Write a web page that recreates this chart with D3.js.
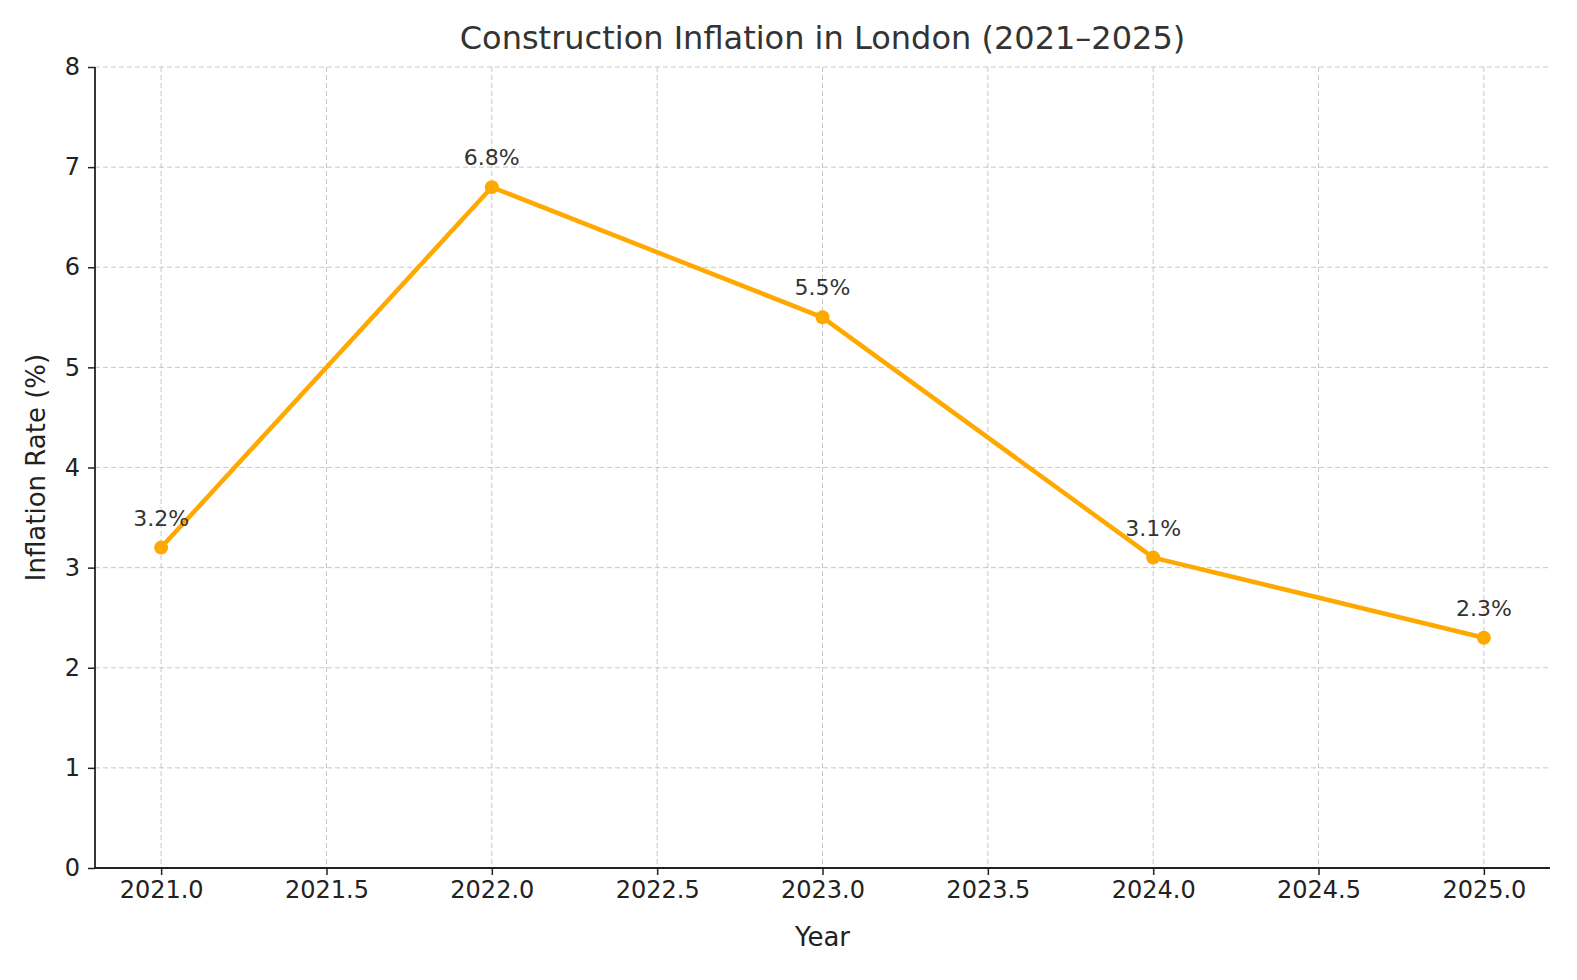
<!DOCTYPE html>
<html>
<head>
<meta charset="utf-8">
<script src="https://cdn.jsdelivr.net/npm/d3@7"></script>
<style>
  body { margin: 0; background: #fff; }
  text { font-family: "DejaVu Sans", sans-serif; }
</style>
</head>
<body>
<svg id="chart" width="1577" height="980"></svg>
<script>
const years = [2021, 2022, 2023, 2024, 2025];
const rates = [3.2, 6.8, 5.5, 3.1, 2.3];
const xTicks = [2021.0, 2021.5, 2022.0, 2022.5, 2023.0, 2023.5, 2024.0, 2024.5, 2025.0];
const yTicks = [0, 1, 2, 3, 4, 5, 6, 7, 8];

const svg = d3.select("#chart");
const mLeft = 95, mRight = 1550, mTop = 67, mBottom = 868;

const x = d3.scaleLinear().domain([2020.8, 2025.2]).range([mLeft, mRight]);
const y = d3.scaleLinear().domain([0, 8]).range([mBottom, mTop]);

// grid
svg.append("g").selectAll("line").data(xTicks).join("line")
  .attr("x1", d => x(d)).attr("x2", d => x(d)).attr("y1", mTop).attr("y2", mBottom)
  .attr("stroke", "#b0b0b0").attr("stroke-opacity", 0.7).attr("stroke-dasharray", "5,3").attr("stroke-width", 1);
svg.append("g").selectAll("line").data(yTicks).join("line")
  .attr("x1", mLeft).attr("x2", mRight).attr("y1", d => y(d)).attr("y2", d => y(d))
  .attr("stroke", "#b0b0b0").attr("stroke-opacity", 0.7).attr("stroke-dasharray", "5,3").attr("stroke-width", 1);

// axes
const xAxis = svg.append("g").attr("transform", `translate(0,${mBottom})`)
  .call(d3.axisBottom(x).tickValues(xTicks).tickFormat(d3.format(".1f")).tickSizeOuter(0).tickSize(7).tickPadding(6));
const yAxis = svg.append("g").attr("transform", `translate(${mLeft},0)`)
  .call(d3.axisLeft(y).tickValues(yTicks).tickFormat(d3.format("d")).tickSizeOuter(0).tickSize(7).tickPadding(8));
[xAxis, yAxis].forEach(g => {
  g.selectAll("text").attr("font-size", 24).attr("fill", "#222").attr("font-family", "DejaVu Sans, sans-serif");
  g.selectAll("line").attr("stroke", "#222").attr("stroke-width", 1.5);
  g.select(".domain").attr("stroke", "#222").attr("stroke-width", 1.8);
});
xAxis.select(".domain").attr("d", `M${mLeft},0H${mRight}`);
yAxis.select(".domain").attr("d", `M0,${mBottom}V${mTop}`);

// line
svg.append("path")
  .datum(years.map((yr, i) => [yr, rates[i]]))
  .attr("fill", "none").attr("stroke", "#FFA800").attr("stroke-width", 4.5)
  .attr("stroke-linejoin", "round")
  .attr("d", d3.line().x(d => x(d[0])).y(d => y(d[1])));

svg.append("g").selectAll("circle").data(years).join("circle")
  .attr("cx", d => x(d)).attr("cy", (d, i) => y(rates[i])).attr("r", 7).attr("fill", "#FFA800");

svg.append("g").selectAll("text").data(years).join("text")
  .attr("x", d => x(d)).attr("y", (d, i) => y(rates[i]) - 22)
  .attr("text-anchor", "middle").attr("font-size", 22).attr("fill", "#333")
  .text((d, i) => rates[i].toFixed(1) + "%");

// labels
svg.append("text").attr("x", (mLeft + mRight) / 2).attr("y", 49).attr("text-anchor", "middle")
  .attr("font-size", 32).attr("fill", "#333").text("Construction Inflation in London (2021–2025)");
svg.append("text").attr("x", (mLeft + mRight) / 2).attr("y", 946).attr("text-anchor", "middle")
  .attr("font-size", 26).attr("fill", "#222").text("Year");
svg.append("text").attr("transform", `translate(45,${(mTop + mBottom) / 2}) rotate(-90)`).attr("text-anchor", "middle")
  .attr("font-size", 26).attr("fill", "#222").text("Inflation Rate (%)");
</script>
</body>
</html>
